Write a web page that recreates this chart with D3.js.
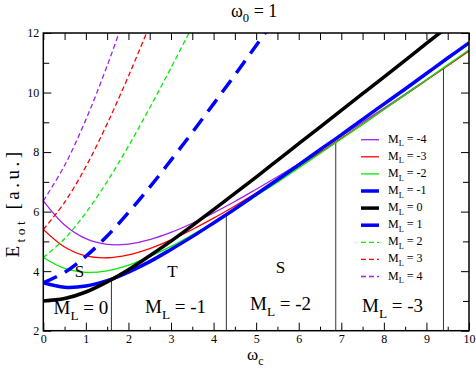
<!DOCTYPE html>
<html>
<head>
<meta charset="utf-8">
<script src="https://cdn.jsdelivr.net/npm/d3@7"></script>
<style>
    body { margin: 0; background: #fff; }
    svg { display: block; font-family: "Liberation Serif", "DejaVu Serif", serif; }
</style>
</head>
<body>
<script>
// cyclotron frequency samples
const omegaC = [0, 0.5, 1, 1.5, 2, 2.5, 3, 3.5, 4, 4.5, 5, 5.5, 6, 6.5, 7, 7.5, 8, 8.5, 9, 9.5, 10];

// total energies, one list per M_L
const eMm4 = [6.36, 5.55, 5.09, 4.90, 4.91, 5.06, 5.30, 5.61, 5.96, 6.34, 6.75, 7.17, 7.61, 8.07, 8.53, 9.00, 9.47, 9.95, 10.43, 10.92, 11.41];
const eMm3 = [5.40, 4.81, 4.51, 4.45, 4.55, 4.76, 5.05, 5.40, 5.78, 6.19, 6.62, 7.07, 7.52, 7.99, 8.46, 8.94, 9.43, 9.92, 10.41, 10.90, 11.40];
const eMm2 = [4.46, 4.09, 3.96, 4.01, 4.20, 4.49, 4.83, 5.22, 5.63, 6.07, 6.53, 6.99, 7.47, 7.95, 8.44, 8.93, 9.43, 9.93, 10.43, 10.93, 11.44];
const eMm1 = [3.61, 3.46, 3.50, 3.68, 3.97, 4.32, 4.73, 5.16, 5.62, 6.09, 6.58, 7.07, 7.57, 8.08, 8.58, 9.10, 9.61, 10.12, 10.64, 11.16, 11.67];
const eM0 = [3.00, 3.08, 3.30, 3.64, 4.05, 4.52, 5.01, 5.53, 6.07, 6.61, 7.16, 7.72, 8.28, 8.84, 9.40, 9.96, 10.52, 11.08, 11.65, 12.21, 12.77];
const eMp1 = [3.61, 3.96, 4.50, 5.18, 5.97, 6.82, 7.73, 8.66, 9.62, 10.59, 11.58, 12.57];
const eMp2 = [4.46, 5.09, 5.96, 7.01, 8.20, 9.49, 10.83, 12.22];
const eMp3 = [5.40, 6.31, 7.51, 8.95, 10.55, 12.26];
const eMp4 = [6.36, 7.55, 9.09, 10.90, 12.91];

const seriesNames = ["-4", "-3", "-2", "-1", "0", "1", "2", "3", "4"];

// ground state transitions (field, energy at the crossing)
const transitionX = [1.6, 4.3, 6.87, 9.4];
const transitionE = [3.77, 5.88, 8.33, 10.82];

const regionNames = ["0", "-1", "-2", "-3"];
const spinNames = ["S", "T", "S"];

const xTicks = [0, 1, 2, 3, 4, 5, 6, 7, 8, 9, 10];
const yTicks = [2, 4, 6, 8, 10, 12];

let opts = {
    width: 476,
    height: 368,
    left: 43.3,
    right: 469,
    top: 33,
    bottom: 330.7
};

let styles = [
    { color: "#a020f0", width: 1.3, dash: null },
    { color: "#ff0000", width: 1.3, dash: null },
    { color: "#00ee00", width: 1.3, dash: null },
    { color: "#0000ff", width: 3.5, dash: null },
    { color: "#000000", width: 3.5, dash: null },
    { color: "#0000ff", width: 3.5, dash: "15,9" },
    { color: "#00ee00", width: 1.3, dash: "5,3" },
    { color: "#ff0000", width: 1.3, dash: "5,3" },
    { color: "#a020f0", width: 1.3, dash: "5,3" }
];

let allSeries = [eMm4, eMm3, eMm2, eMm1, eM0, eMp1, eMp2, eMp3, eMp4];

let svg = d3.select("body")
            .append("svg")
            .attr("width", opts.width)
            .attr("height", opts.height);

let x = d3.scaleLinear().domain([0, 10]).range([opts.left, opts.right]);
let y = d3.scaleLinear().domain([2, 12]).range([opts.bottom, opts.top]);

svg.append("clipPath").attr("id", "plotClip")
   .append("rect")
   .attr("x", opts.left).attr("y", opts.top)
   .attr("width", opts.right - opts.left)
   .attr("height", opts.bottom - opts.top);

// Helper: text with a subscript
function subText(g, main, sub, rest, size) {
    let t = g.append("text").attr("font-size", size);
    t.append("tspan").text(main);
    t.append("tspan").attr("font-size", size * 0.7).attr("dy", size * 0.3).text(sub);
    if (rest) t.append("tspan").attr("dy", -size * 0.3).text(rest);
    return t;
}

// Transition lines
svg.append("g").selectAll("line")
   .data(transitionX)
   .enter().append("line")
   .attr("x1", (d) => x(d)).attr("x2", (d) => x(d))
   .attr("y1", y(2))
   .attr("y2", (d, i) => y(transitionE[i]))
   .attr("stroke", "#333").attr("stroke-width", 1);

// Curves
let line = d3.line()
             .x((d, i) => x(omegaC[i]))
             .y((d) => y(d))
             .curve(d3.curveCatmullRom);

svg.append("g").attr("clip-path", "url(#plotClip)")
   .selectAll("path")
   .data(allSeries)
   .enter().append("path")
   .attr("d", line)
   .attr("fill", "none")
   .attr("stroke", (d, i) => styles[i].color)
   .attr("stroke-width", (d, i) => styles[i].width)
   .attr("stroke-dasharray", (d, i) => styles[i].dash);

// Axes frame and ticks
let axes = svg.append("g");
axes.append("rect")
    .attr("x", opts.left).attr("y", opts.top)
    .attr("width", opts.right - opts.left)
    .attr("height", opts.bottom - opts.top)
    .attr("fill", "none").attr("stroke", "#000").attr("stroke-width", 1.5);

let bottomAxis = d3.axisBottom(x).tickValues(xTicks).tickSize(-8).tickPadding(4).tickFormat(d3.format("d"));
let topAxis = d3.axisTop(x).tickValues(d3.range(0, 10.01, 0.5)).tickSize(-7).tickFormat("");
let leftAxis = d3.axisLeft(y).tickValues(yTicks).tickSize(-8).tickPadding(4).tickFormat(d3.format("d"));
let rightAxis = d3.axisRight(y).tickValues(yTicks).tickSize(-8).tickFormat("");

let minorX = d3.axisBottom(x).tickValues(d3.range(0.5, 10, 1)).tickSize(-4).tickFormat("");
let minorY = d3.axisLeft(y).tickValues([3, 5, 7, 9, 11]).tickSize(-6).tickFormat("");
let minorYR = d3.axisRight(y).tickValues([3, 5, 7, 9, 11]).tickSize(-6).tickFormat("");

function styleAxis(g) {
    g.attr("font-family", null);
    g.select(".domain").remove();
    g.selectAll("line").attr("stroke", "#000").attr("stroke-width", 1);
    g.selectAll("text").attr("font-size", 12).attr("fill", "#000");
}

axes.append("g").attr("transform", `translate(0,${opts.bottom})`).call(bottomAxis).call(styleAxis);
axes.append("g").attr("transform", `translate(0,${opts.bottom})`).call(minorX).call(styleAxis);
axes.append("g").attr("transform", `translate(0,${opts.top})`).call(topAxis).call(styleAxis);
axes.append("g").attr("transform", `translate(${opts.left},0)`).call(leftAxis).call(styleAxis);
axes.append("g").attr("transform", `translate(${opts.left},0)`).call(minorY).call(styleAxis);
axes.append("g").attr("transform", `translate(${opts.right},0)`).call(rightAxis).call(styleAxis);
axes.append("g").attr("transform", `translate(${opts.right},0)`).call(minorYR).call(styleAxis);

// Title and axis labels
subText(svg, "ω", "0", " = 1", 18).attr("x", 231).attr("y", 17);
subText(svg, "ω", "c", null, 17).attr("x", 247).attr("y", 360);
subText(svg, "E", "tot", " [a.u.]", 19)
    .attr("text-anchor", "middle")
    .attr("letter-spacing", 3.5)
    .attr("transform", "translate(19,203) rotate(-90)");

// Region labels
let regionX = [53.5, 145, 250, 362];
let regionY = [314, 313, 310, 312];
regionNames.forEach((name, i) => {
    subText(svg, "M", "L", " = " + name, 19).attr("x", regionX[i]).attr("y", regionY[i]);
});

// Spin labels
let spinX = [79.5, 172.5, 280.5];
let spinY = [277, 277, 273];
svg.append("g").selectAll("text")
   .data(spinNames)
   .enter().append("text")
   .attr("x", (d, i) => spinX[i]).attr("y", (d, i) => spinY[i])
   .attr("text-anchor", "middle")
   .attr("font-size", 17)
   .text((d) => d);

// Legend
let legend = svg.append("g");
seriesNames.forEach((name, i) => {
    let cy = 139.7 + i * 17.1;
    legend.append("line")
          .attr("x1", 361).attr("x2", 379)
          .attr("y1", cy).attr("y2", cy)
          .attr("stroke", styles[i].color)
          .attr("stroke-width", styles[i].width)
          .attr("stroke-dasharray", i === 5 ? null : styles[i].dash);
    subText(legend, "M", "L", " = " + name, 12).attr("x", 388).attr("y", cy + 3);
});
</script>
</body>
</html>
